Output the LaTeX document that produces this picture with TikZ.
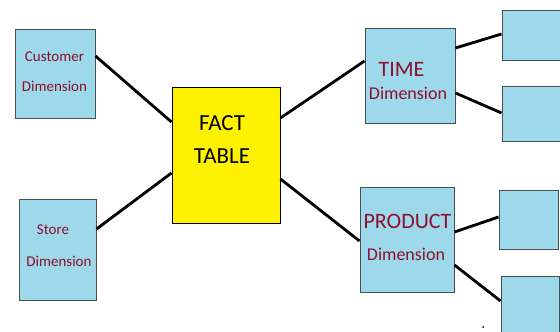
\documentclass[tikz,border=0pt]{standalone}
\usepackage{fontspec}
\setmainfont{Carlito}
\usetikzlibrary{calc}
\definecolor{dimblue}{HTML}{9DD9EA}
\definecolor{factyellow}{HTML}{FFF200}
\definecolor{dimred}{HTML}{8E0F2E}
\definecolor{boxedge}{HTML}{455055}
\tikzset{
  dimbox/.style={draw=boxedge, line width=1pt, fill=dimblue, rectangle, inner sep=0pt},
  factbox/.style={draw=black, line width=1pt, fill=factyellow, rectangle, inner sep=0pt},
  link/.style={line width=2.8pt, black},
  smalltxt/.style={text=dimred, anchor=base, inner sep=0pt, font=\fontsize{15}{18}\selectfont},
  midtxt/.style={text=dimred, anchor=base, inner sep=0pt, font=\fontsize{18}{21}\selectfont},
  bigtxt/.style={text=dimred, anchor=base, inner sep=0pt, font=\fontsize{22}{26}\selectfont},
  facttxt/.style={text=black, anchor=base, inner sep=0pt, font=\fontsize{23}{27}\selectfont},
}
\begin{document}
\begin{tikzpicture}[x=1pt,y=-1pt]
\useasboundingbox (0,0) rectangle (560,332);
\clip (0,0) rectangle (560,332);
% boxes
\node[dimbox, minimum width=80pt, minimum height=89pt] (cust) at (55,73.5) {};
\node[dimbox, minimum width=77pt, minimum height=101pt] (store) at (57.5,249.5) {};
\node[factbox, minimum width=108pt, minimum height=136pt] (fact) at (226,155) {};
\node[dimbox, minimum width=90pt, minimum height=95pt] (time) at (410,75.5) {};
\node[dimbox, minimum width=94pt, minimum height=105pt] (prod) at (407,239.5) {};
\node[dimbox, minimum width=62pt, minimum height=50pt] (b1) at (533,35) {};
\node[dimbox, minimum width=62pt, minimum height=55pt] (b2) at (533,113.5) {};
\node[dimbox, minimum width=59pt, minimum height=59pt] (b3) at (528.5,219.5) {};
\node[dimbox, minimum width=58pt, minimum height=62pt] (b4) at (530,307) {};
% texts
\node[smalltxt] (t1) at (54.5,61) {Customer};
\node[smalltxt] (t2) at (54.5,91.5) {Dimension};
\node[smalltxt] (t3) at (53,234) {Store};
\node[smalltxt] (t4) at (59,266) {Dimension};
\node[facttxt] (t5) at (222,130) {FACT};
\node[facttxt] (t6) at (222,163) {TABLE};
\node[bigtxt] (t7) at (401.5,76) {TIME};
\node[midtxt] (t8) at (408,99) {Dimension};
\node[bigtxt] (t9) at (407.5,228) {PRODUCT};
\node[midtxt] (t10) at (406,260) {Dimension};
% connectors
\draw[link] ($(cust.east)+(0,-17.5)$) -- ($(fact.west)+(0,-33)$);
\draw[link] ($(store.east)+(0,-20.5)$) -- ($(fact.west)+(0,18)$);
\draw[link] ($(fact.east)+(0,-37)$) -- ($(time.west)+(0,-14.5)$);
\draw[link] ($(fact.east)+(0,24)$) -- ($(prod.west)+(0,1.5)$);
\draw[link] ($(time.east)+(0,-27.5)$) -- ($(b1.west)+(0,-1)$);
\draw[link] ($(time.east)+(0,17.5)$) -- ($(b2.west)+(0,-0.5)$);
\draw[link] ($(prod.east)+(0,-7.5)$) -- ($(b3.west)+(0,-2.5)$);
\draw[link] ($(prod.east)+(0,25.5)$) -- ($(b4.west)+(0,-6)$);
% stray dot
\fill[black] (483,327) circle (1pt);
\end{tikzpicture}
\end{document}
